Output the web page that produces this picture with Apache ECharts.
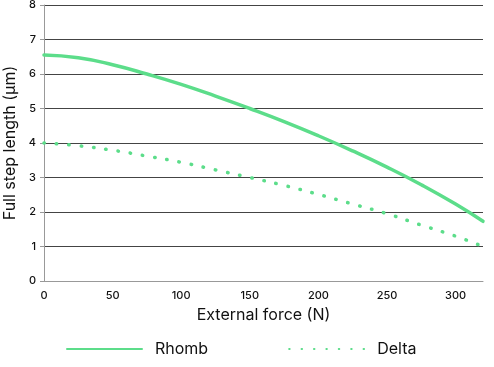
<!DOCTYPE html>
<html><head><meta charset="utf-8">
<script src="https://cdn.jsdelivr.net/npm/echarts@6/dist/echarts.min.js"></script>
<style>html,body{margin:0;padding:0;background:#fff}#c{width:494px;height:367px}</style>
</head><body><div id="c"></div>
<script>
const forces = [0,25,50,75,100,125,150,175,200,225,250,275,300,320];
const rhomb = [6.55,6.47,6.27,6.0,5.7,5.36,5.0,4.62,4.21,3.77,3.3,2.79,2.23,1.73];
const delta = [4.0,3.92,3.79,3.62,3.44,3.22,3.0,2.77,2.51,2.23,1.95,1.62,1.3,1.0];
const seriesNames = ['Rhomb','Delta'];
const green = '#5cdd8a';
const font = 'Inter';
const chart = echarts.init(document.getElementById('c'));
chart.setOption({
  animation:false,
  grid:{left:44,right:11,top:5,bottom:86,containLabel:false,outerBoundsMode:'none'},
  xAxis:{type:'value',min:0,max:320,interval:50,
    name:'External force (N)',nameLocation:'middle',nameGap:26,
    nameTextStyle:{fontFamily:font,fontSize:16,color:'#111'},
    axisLine:{show:true,lineStyle:{color:'#999',width:1}},
    axisTick:{show:false},
    axisLabel:{fontFamily:font,fontSize:11,fontWeight:500,color:'#111',margin:9,showMaxLabel:false},
    splitLine:{show:false}},
  yAxis:{type:'value',min:0,max:8,interval:1,
    name:'Full step length (µm)',nameLocation:'middle',nameGap:25,
    nameTextStyle:{fontFamily:font,fontSize:16,color:'#111'},
    axisLine:{show:true,lineStyle:{color:'#999',width:1}},
    axisTick:{show:true,length:4,lineStyle:{color:'#999'}},
    axisLabel:{fontFamily:font,fontSize:11,fontWeight:500,color:'#111',margin:8},
    splitLine:{show:true,lineStyle:{color:'#444',width:1}}},
  legend:{bottom:5,left:61,itemWidth:75,itemHeight:10,itemGap:80,
    itemStyle:{opacity:0},
    textStyle:{fontFamily:font,fontSize:16,color:'#111',padding:[0,0,0,8]},
    data:seriesNames},
  series:[
    {name:seriesNames[0],type:'line',smooth:true,symbol:'none',
     data:forces.map((f,i)=>[f,rhomb[i]]),
     lineStyle:{color:green,width:3.5,cap:'round'},itemStyle:{color:green}},
    {name:seriesNames[1],type:'line',smooth:true,symbol:'none',
     data:forces.map((f,i)=>[f,delta[i]]),
     lineStyle:{color:green,width:3.5,type:[0.5,11.9],cap:'round'},itemStyle:{color:green}}
  ]
});
</script></body></html>
